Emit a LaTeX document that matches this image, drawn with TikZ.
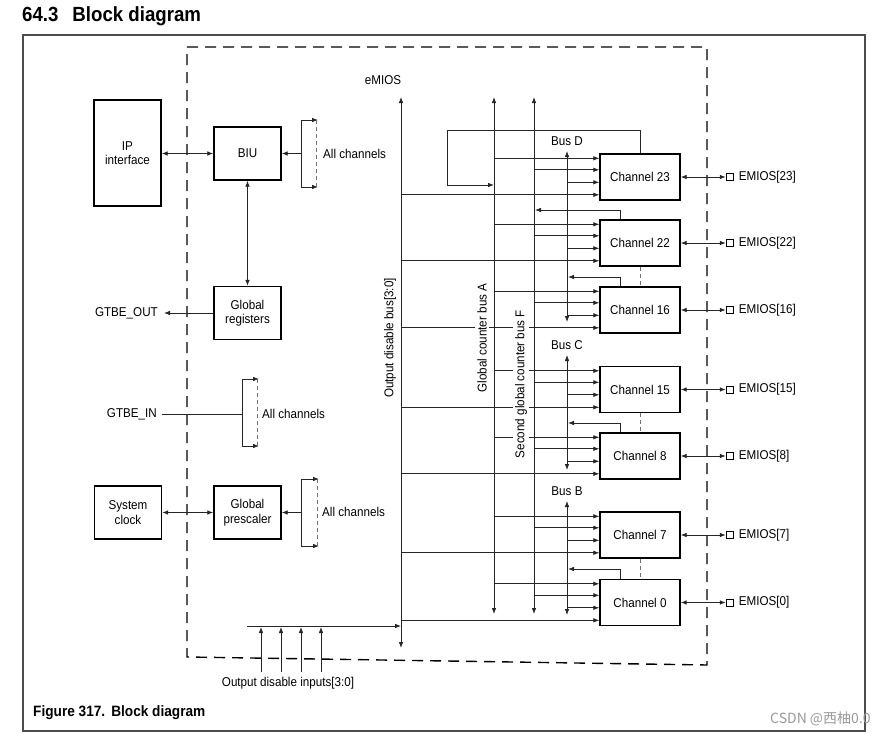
\documentclass[tikz,border=0pt]{standalone}
\usepackage{fontspec}
\setmainfont{Liberation Sans}[FakeStretch=0.91]
\newfontfamily\cjkfont{Noto Sans CJK SC}
\usetikzlibrary{arrows.meta}
\newcommand\fsz{\fontsize{12.8}{14.5}\selectfont}
\begin{document}
\begin{tikzpicture}[x=1pt,y=-1pt,
  every node/.style={font=\fsz, inner sep=0pt},
  ln/.style={line width=0.85pt, draw=black!85},
  arr/.style={ln, -{Latex[length=6pt,width=4.6pt]}},
  dbl/.style={ln, {Latex[length=6pt,width=4.6pt]}-{Latex[length=6pt,width=4.6pt]}},
  blk/.style={draw, line width=1.4pt, minimum width=67pt, minimum height=53pt, align=center},
  chan/.style={draw, line width=1.4pt, minimum width=80pt, minimum height=46pt},
  pinsq/.style={draw, line width=0.9pt, minimum size=7pt},
  gdash/.style={line width=0.85pt, draw=black!55, dash pattern=on 4pt off 3pt},
  vlab/.style={rotate=90, fill=white, inner sep=2pt},
]
\useasboundingbox (0,0) rectangle (892,736);

% title, frame, caption
\node[anchor=base west, font=\bfseries\fontsize{20.5}{24}\selectfont] (title) at (22,21) {64.3\hspace{14pt}Block diagram};
\draw[line width=1.1pt, black!70] (23,35) rectangle (865,731);
\node[anchor=base west, font=\bfseries\fontsize{15}{17}\selectfont] (cap) at (33,716) {Figure 317.\hspace{6pt}Block diagram};
\node[anchor=base west, font=\cjkfont\fontsize{14}{16}\selectfont, text=black!40] (wm) at (770,723) {CSDN @西柚0.0};

% eMIOS boundary
\draw[line width=1.4pt, dash pattern=on 11pt off 7pt] (187,47) -- (707,47) -- (707,665) -- (187,657) -- cycle;
\node (emios) at (383,80) {eMIOS};

% left blocks
\node[blk, minimum height=106pt] (ip) at (127.5,153) {IP\\interface};
\node[blk] (biu) at (247.5,153.5) {BIU};
\node[blk] (greg) at (247.5,313) {Global\\registers};
\node[blk] (sys) at (128,512.5) {System\\clock};
\node[blk] (gpre) at (247.5,512.5) {Global\\prescaler};

\draw[dbl] (ip.east |- biu.west) -- (biu.west);
\draw[dbl] (biu.south) -- (greg.north);
\draw[dbl] (sys.east) -- (gpre.west);

% BIU bracket
\coordinate (bk1t) at (301,120); \coordinate (bk1b) at (301,187);
\draw[ln] (bk1t) -- (bk1b);
\draw[arr] (bk1t) -- ++(17,0);
\draw[arr] (bk1b) -- ++(17,0);
\draw[arr] (bk1t |- biu.east) -- (biu.east);
\draw[gdash] (316,120) -- (316,187);
\node[anchor=west] (ac1) at (323,154) {All channels};

% GTBE_OUT
\node[anchor=east] (gout) at (158,313) {GTBE\_OUT};
\draw[arr] (greg.west) -- ([xshift=6pt]gout.east);

% GTBE_IN bracket
\node[anchor=east] (gin) at (157,414) {GTBE\_IN};
\coordinate (bk2t) at (242,379); \coordinate (bk2b) at (242,446);
\draw[ln] ([xshift=5pt]gin.east) -- (bk2t |- gin.east);
\draw[ln] (bk2t) -- (bk2b);
\draw[arr] (bk2t) -- ++(17,0);
\draw[arr] (bk2b) -- ++(17,0);
\draw[gdash] (257,379) -- (257,446);
\node[anchor=west] (ac2) at (262,414) {All channels};

% prescaler bracket
\coordinate (bk3t) at (301,479); \coordinate (bk3b) at (301,546);
\draw[ln] (bk3t) -- (bk3b);
\draw[arr] (bk3t) -- ++(18,0);
\draw[arr] (bk3b) -- ++(18,0);
\draw[arr] (bk3t |- gpre.east) -- (gpre.east);
\draw[gdash] (317,479) -- (317,546);
\node[anchor=west] (ac3) at (322,512) {All channels};

% buses
\coordinate (busOD) at (401,97);  \coordinate (busODe) at (401,648);
\coordinate (busA) at (494,97);   \coordinate (busAe) at (494,614);
\coordinate (busF) at (534,97);   \coordinate (busFe) at (534,614);
\coordinate (busD) at (567,151);  \coordinate (busDe) at (567,322);
\coordinate (busC) at (567,355);  \coordinate (busCe) at (567,470);
\coordinate (busB) at (567,501);  \coordinate (busBe) at (567,615);
\draw[dbl] (busOD) -- (busODe);
\draw[dbl] (busA) -- (busAe);
\draw[dbl] (busF) -- (busFe);
\draw[dbl] (busD) -- (busDe);
\draw[dbl] (busC) -- (busCe);
\draw[dbl] (busB) -- (busBe);
\node (bDl) at (567,141) {Bus D};
\node (bCl) at (567,345) {Bus C};
\node (bBl) at (567,491) {Bus B};

% channels
\node[chan] (ch23) at (640,177) {Channel 23};
\node[chan] (ch22) at (640,243) {Channel 22};
\node[chan] (ch16) at (640,310) {Channel 16};
\node[chan] (ch15) at (640,389.5) {Channel 15};
\node[chan] (ch8)  at (640,456) {Channel 8};
\node[chan] (ch7)  at (640,535) {Channel 7};
\node[chan] (ch0)  at (640,602.5) {Channel 0};

\foreach \c/\b in {23/D,22/D,16/D,15/C,8/C,7/B,0/B}{
  \coordinate (i1) at ([yshift=-5pt]ch\c.north west);
  \coordinate (i2) at ([yshift=-16.5pt]ch\c.north west);
  \coordinate (i3) at ([yshift=-29pt]ch\c.north west);
  \coordinate (i4) at ([yshift=-41.5pt]ch\c.north west);
  \draw[arr] (busA |- i1) -- (i1);
  \draw[arr] (busF |- i2) -- (i2);
  \draw[arr] (bus\b |- i3) -- (i3);
  \draw[arr] (busOD |- i4) -- (i4);
  \node[pinsq] (p\c) at ([xshift=49pt]ch\c.east) {};
  \draw[dbl] (ch\c.east) -- (p\c.west);
  \node[anchor=west] (t\c) at ([xshift=5pt]p\c.east) {EMIOS[\c]};
}

% feedback paths
\coordinate (lp1) at (447,130); \coordinate (lp2) at (447,185);
\draw[arr] (ch23.north) |- (lp1) -- (lp2) -- (busA |- lp2);
\coordinate (f22) at (535,210);
\draw[arr] ([xshift=-20pt]ch22.north) |- (f22);
\coordinate (f16) at (568,277);
\draw[arr] ([xshift=-20pt]ch16.north) |- (f16);
\coordinate (f8) at (568,423);
\draw[arr] ([xshift=-20pt]ch8.north) |- (f8);
\coordinate (f0) at (568,569);
\draw[arr] ([xshift=-20pt]ch0.north) |- (f0);

\draw[gdash] (ch22.south) -- (ch16.north);
\draw[gdash] (ch15.south) -- (ch8.north);
\draw[gdash] (ch7.south) -- (ch0.north);

% output disable inputs
\coordinate (odin) at (247,626);
\draw[arr] (odin) -- (busOD |- odin);
\foreach \x in {261,281,301,321} \draw[arr] (\x,672) -- (\x,627);
\node (odl) at (288,683) {Output disable inputs[3:0]};

% rotated labels
\node[vlab] (odbl) at (390,338) {Output disable bus[3:0]};
\node[vlab] (gcal) at (482,338) {Global counter bus A};
\node[vlab] (gcfl) at (521,384) {Second global counter bus F};
\end{tikzpicture}
\end{document}
